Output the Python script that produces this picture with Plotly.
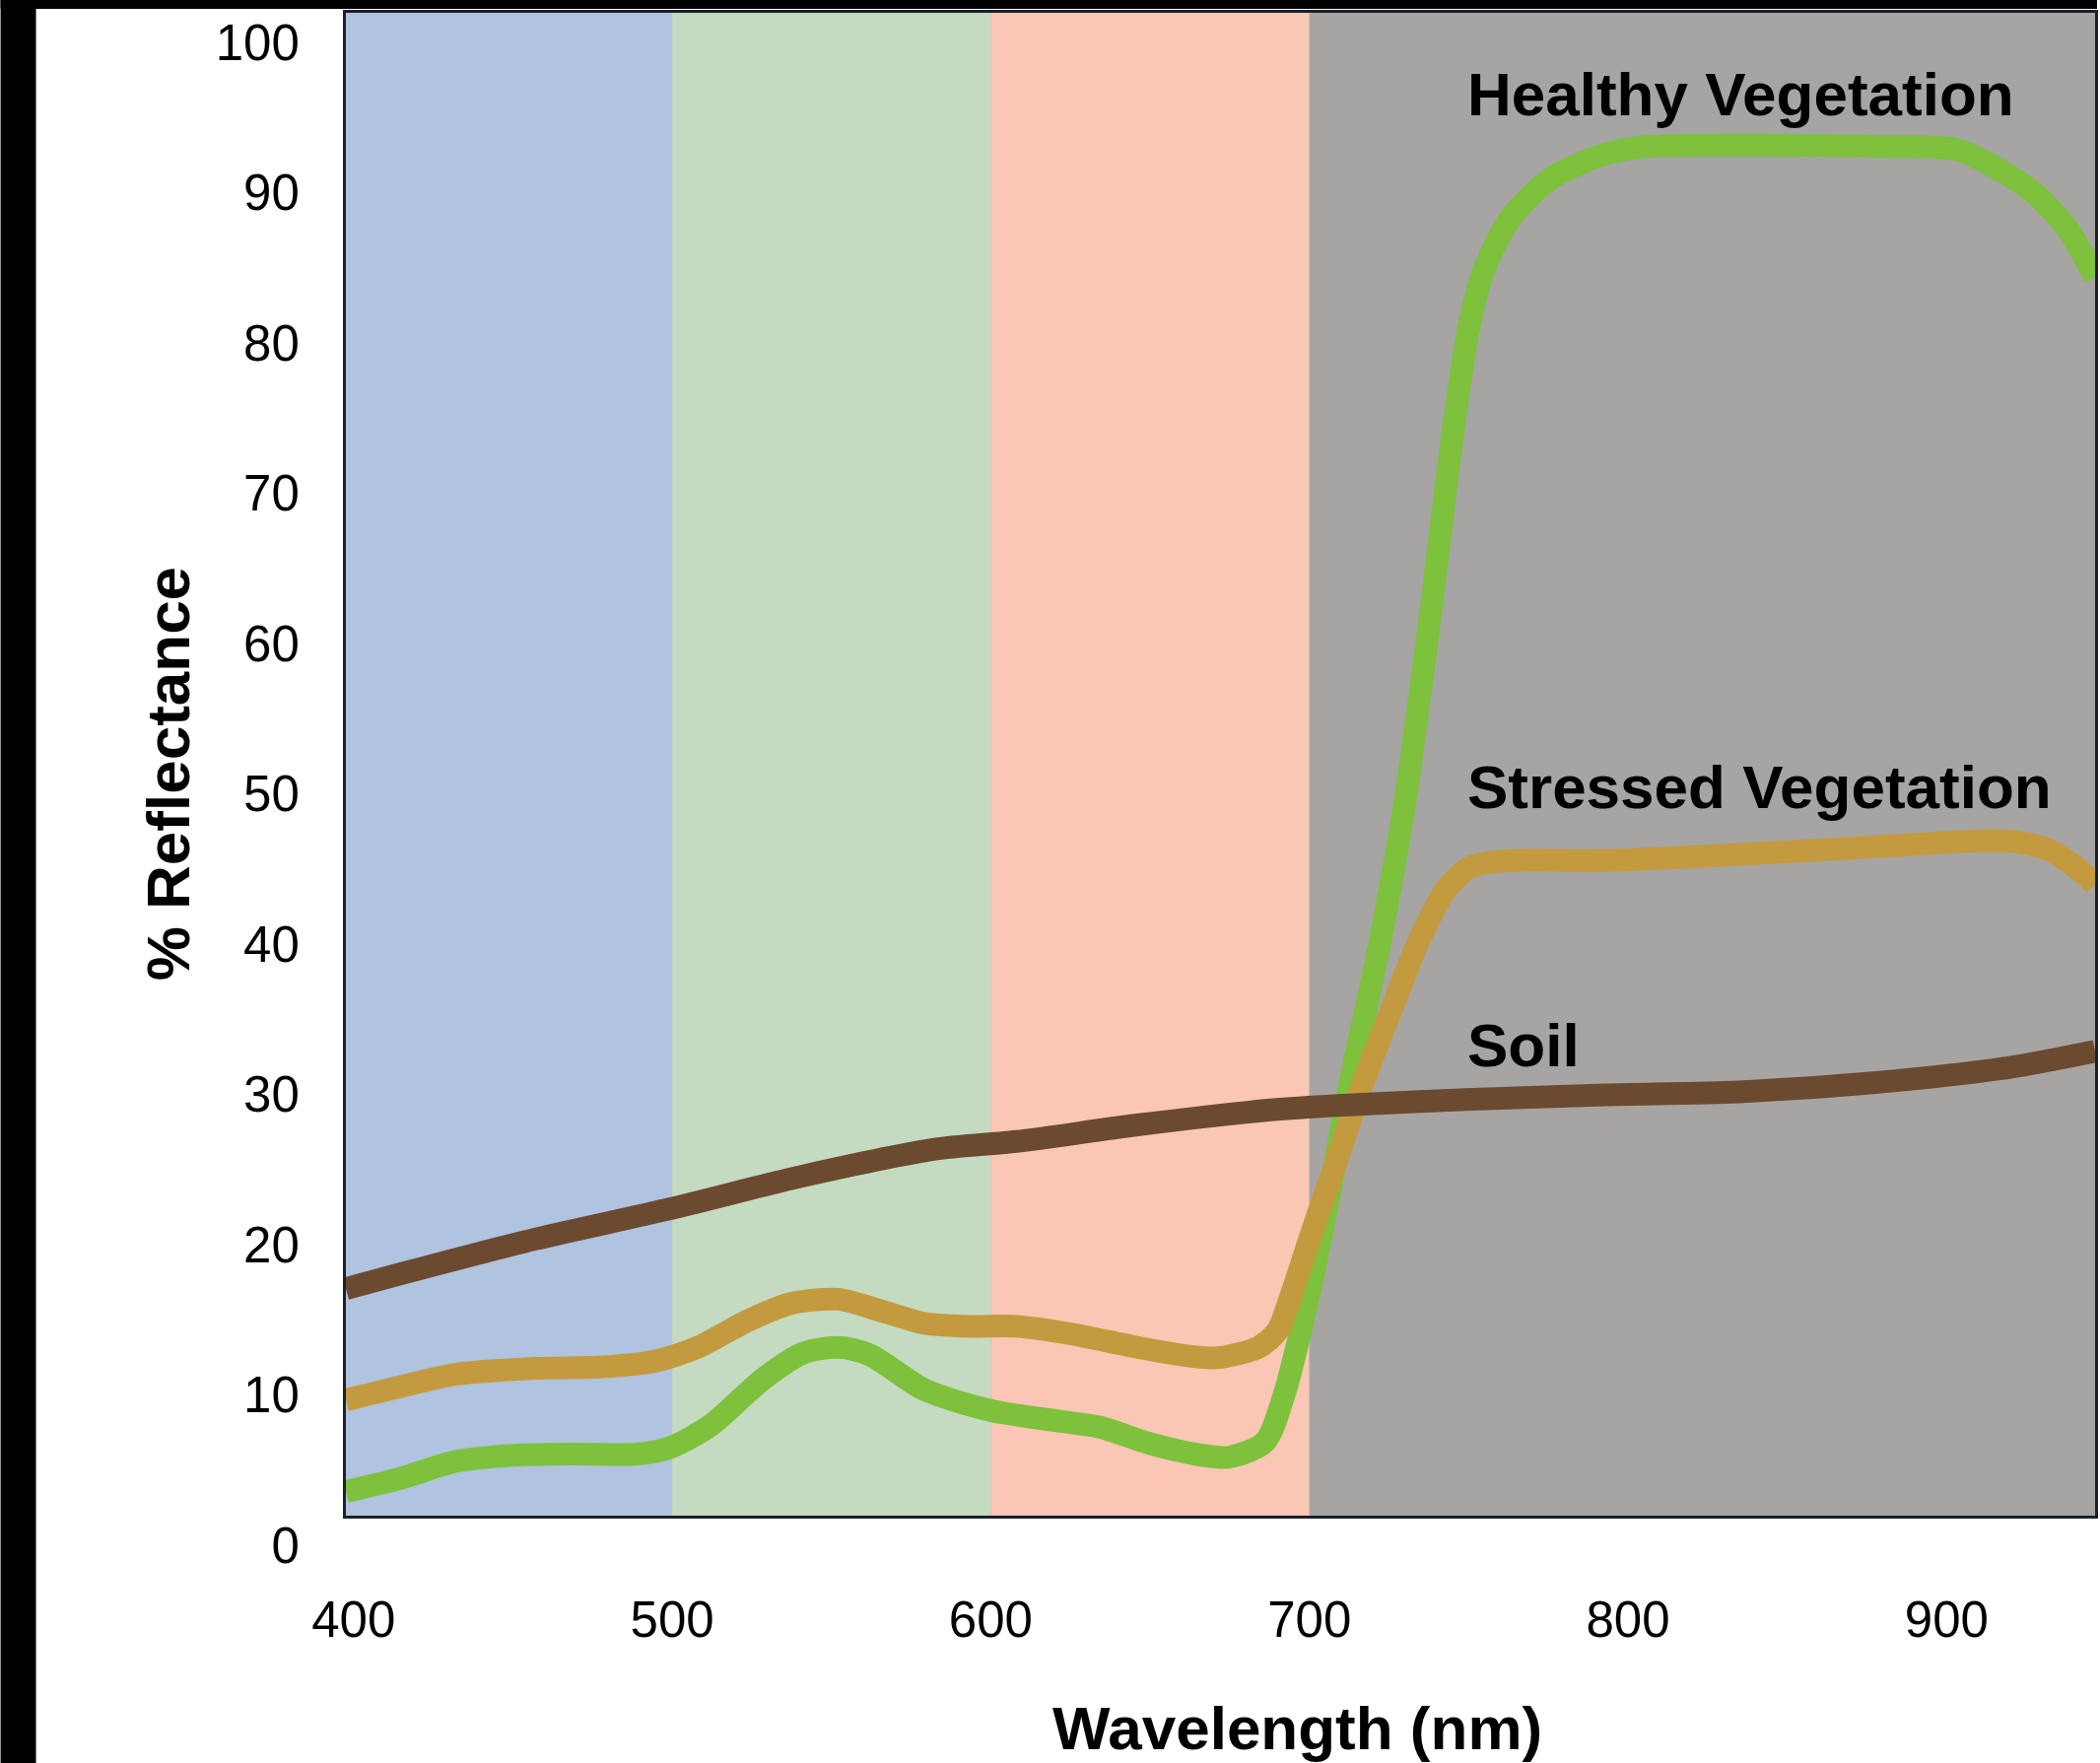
import plotly.graph_objects as go

# Spectral reflectance curves (wavelength in nm, reflectance in %)
wl_healthy = [397.6, 415, 432, 449, 470, 489, 499, 512, 528, 541, 552, 562, 579, 600,
              621, 634, 650, 667, 675, 686, 692, 698, 705, 712, 722, 730, 738, 745,
              750, 755, 763, 776, 793, 806, 840, 880, 903, 917, 928, 938, 946.6]
healthy = [1.6, 2.5, 3.6, 4.0, 4.1, 4.1, 4.5, 6.0, 9.0, 10.8, 11.2, 10.7, 8.4, 7.0,
           6.3, 5.9, 4.8, 4.0, 3.9, 4.9, 8.0, 13.0, 20.0, 28.0, 38.0, 47.5, 60.0, 72.0,
           79.0, 83.0, 86.3, 89.0, 90.6, 91.1, 91.2, 91.1, 90.9, 89.5, 87.9, 85.6, 82.4]

wl_stressed = [397.6, 415, 432, 457, 478, 495, 508, 524, 537, 552, 566, 579, 592, 608,
               625, 646, 663, 671, 684, 690, 694, 701, 709, 717, 726, 734, 743, 751,
               764, 793, 835, 877, 919, 932, 942, 946.6]
stressed = [7.7, 8.6, 9.4, 9.8, 9.9, 10.3, 11.2, 13.0, 14.1, 14.4, 13.6, 12.8, 12.6, 12.6,
            12.1, 11.2, 10.6, 10.5, 11.2, 12.3, 14.5, 19.0, 23.9, 28.9, 33.8, 38.1, 41.7, 43.2,
            43.6, 43.6, 44.0, 44.5, 44.9, 44.3, 42.9, 42.0]

wl_soil = [397.6, 415, 457, 499, 541, 583, 608, 646, 688, 709, 751, 793, 835, 877, 919, 946.6]
soil = [15.1, 16.1, 18.4, 20.4, 22.6, 24.4, 24.9, 26.0, 27.0, 27.3, 27.7, 28.0, 28.2, 28.8,
        29.8, 30.9]

# Colour bands of the spectrum: blue, green, red, near infrared
band_starts = [397.6, 500, 600, 700]
band_ends = [500, 600, 700, 946.6]
band_colors = ["#B0C3DF", "#C4DBC1", "#F9C7B4", "#A6A5A4"]

x_ticks = [400, 500, 600, 700, 800, 900]
y_ticks = [0, 10, 20, 30, 40, 50, 60, 70, 80, 90, 100]

W, H = 2131, 1789
ML, MR, MT, MB = 351, 2, 13, 251
X_RANGE = [397.6, 946.6]
Y_RANGE = [0, 100]
FONT = "Liberation Sans, Arial, sans-serif"
FRAME = "#1c2029"

fig = go.Figure()

series = [
    ("Healthy Vegetation", wl_healthy, healthy, "#7DC13C"),
    ("Stressed Vegetation", wl_stressed, stressed, "#C49A3F"),
    ("Soil", wl_soil, soil, "#6B4A30"),
]
for name, xs, ys, color in series:
    fig.add_trace(go.Scatter(
        x=xs, y=ys, mode="lines", name=name,
        line=dict(color=color, width=23, shape="spline", smoothing=0.8),
        hoverinfo="x+y+name",
    ))

shapes = []
for x0, x1, c in zip(band_starts, band_ends, band_colors):
    shapes.append(dict(type="rect", xref="x", yref="paper", x0=x0, x1=x1, y0=0, y1=1,
                       fillcolor=c, line=dict(width=0), layer="below"))

# black border strips along the top and left edges of the page
pw = W - ML - MR
ph = H - MT - MB
px = lambda v: (v - ML) / pw
py = lambda v: (H - MB - v) / ph
shapes.append(dict(type="rect", xref="paper", yref="paper",
                   x0=px(0), x1=px(36), y0=py(H), y1=py(0),
                   fillcolor="black", line=dict(width=0), layer="above"))
shapes.append(dict(type="rect", xref="paper", yref="paper",
                   x0=px(0), x1=px(W), y0=py(9), y1=py(0),
                   fillcolor="black", line=dict(width=0), layer="above"))

label_font = dict(family=FONT, size=62, color="black", weight=700)
annotations = [
    dict(x=749, y=94.6, xref="x", yref="y", text="Healthy Vegetation",
         showarrow=False, xanchor="left", yanchor="middle", font=label_font),
    dict(x=749, y=48.5, xref="x", yref="y", text="Stressed Vegetation",
         showarrow=False, xanchor="left", yanchor="middle", font=label_font),
    dict(x=749, y=31.3, xref="x", yref="y", text="Soil",
         showarrow=False, xanchor="left", yanchor="middle", font=label_font),
    dict(x=px(1318), y=py(1753), xref="paper", yref="paper", text="Wavelength (nm)",
         showarrow=False, xanchor="center", yanchor="middle", font=label_font),
    dict(x=px(170), y=py(785), xref="paper", yref="paper", text="% Reflectance",
         textangle=-90, showarrow=False, xanchor="center", yanchor="middle",
         font=label_font),
]

fig.update_layout(
    width=W, height=H,
    margin=dict(l=ML, r=MR, t=MT, b=MB, pad=0),
    paper_bgcolor="white",
    plot_bgcolor="#A6A5A4",
    showlegend=False,
    shapes=shapes,
    annotations=annotations,
    font=dict(family=FONT, color="black"),
)
fig.update_xaxes(
    range=X_RANGE, tickvals=x_ticks, ticktext=[str(v) for v in x_ticks],
    showgrid=False, zeroline=False, ticks="",
    showline=True, mirror=True, linecolor=FRAME, linewidth=3,
    tickfont=dict(family=FONT, size=51, color="black"),
    ticklabelstandoff=59,
)
fig.update_yaxes(
    range=Y_RANGE, tickvals=y_ticks, ticktext=[str(v) for v in y_ticks],
    showgrid=False, zeroline=False, ticks="",
    showline=True, mirror=True, linecolor=FRAME, linewidth=3,
    tickfont=dict(family=FONT, size=51, color="black"),
    ticklabelstandoff=34, ticklabelshift=30,
)

fig.write_html("out.html")
